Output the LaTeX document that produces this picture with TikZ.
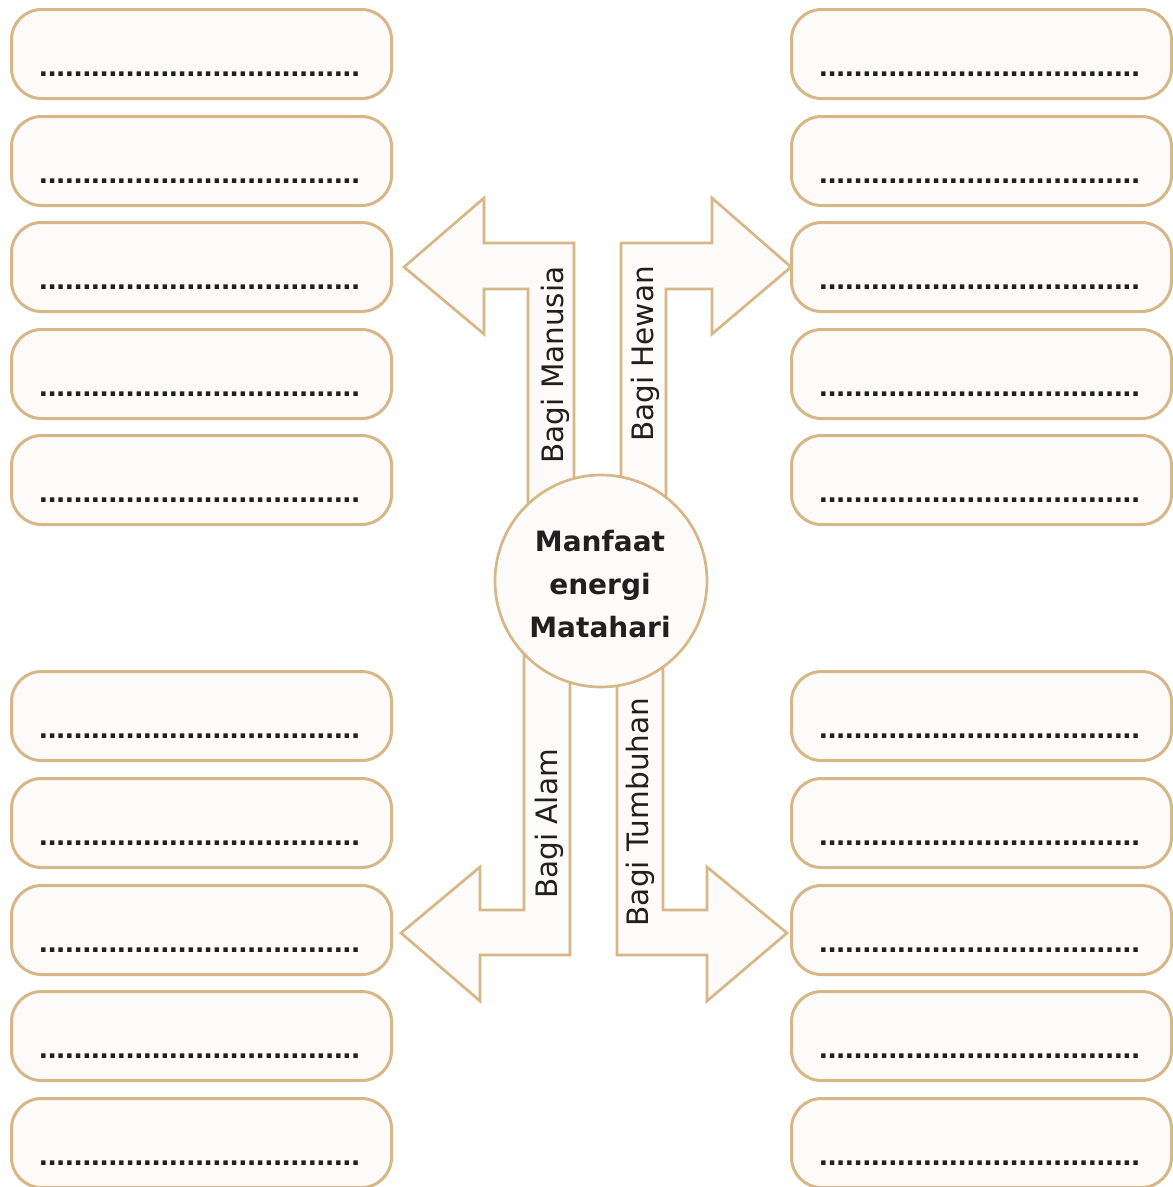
\documentclass[tikz,border=0pt]{standalone}
\usepackage{fontspec}
\setmainfont{DejaVu Sans}
\newfontfamily\dotsfont{Liberation Sans}
\definecolor{tan}{RGB}{215,183,135}
\definecolor{paper}{RGB}{252,251,249}
\definecolor{ink}{RGB}{35,31,32}
\begin{document}
\begin{tikzpicture}[x=1pt,y=-1pt,
  answerbox/.style={draw=tan, fill=paper, line width=3pt, rounded corners=30pt,
    minimum width=380pt, minimum height=89pt, inner sep=0pt},
  dotline/.style={font=\dotsfont\bfseries\fontsize{31.2}{36}\selectfont, text=ink, inner sep=0pt, anchor=base},
  blockarrow/.style={draw=tan, fill=paper, line width=2.7pt, line join=miter},
  hub/.style={circle, draw=tan, fill=paper, line width=2.7pt, minimum size=212pt, inner sep=0pt},
  hubtext/.style={font=\bfseries\fontsize{28}{43}\selectfont, text=ink, align=center, inner sep=0pt},
  armlabel/.style={font=\fontsize{29.5}{34}\selectfont, text=ink, rotate=90, anchor=base, inner sep=0pt}]
\useasboundingbox (0,0) rectangle (1173,1187);
\fill[white] (0,0) rectangle (1173,1187);

% answer boxes
\foreach \n/\cy in {1/54,2/161,3/267,4/374,5/480,6/716,7/823,8/930,9/1036,10/1143}{
  \node[answerbox] (L\n) at (201.5,\cy) {};
  \node[dotline] (Ld\n) at ([xshift=-2pt,yshift=-22.5pt]L\n.center) {.....................................};
  \node[answerbox] (R\n) at (981.5,\cy) {};
  \node[dotline] (Rd\n) at ([xshift=-2pt,yshift=-22.5pt]R\n.center) {.....................................};
}

% block arrows
\draw[blockarrow] (528,520) -- (528,289) -- (484,289) -- (484,334) -- (404,267)
  -- (484,198) -- (484,243) -- (574,243) -- (574,520) -- cycle;
\draw[blockarrow] (621,520) -- (621,243) -- (712,243) -- (712,198) -- (791,267)
  -- (712,334) -- (712,289) -- (666,289) -- (666,520) -- cycle;
\draw[blockarrow] (524,640) -- (524,910) -- (480,910) -- (480,867) -- (401,933)
  -- (480,1001) -- (480,955) -- (570,955) -- (570,640) -- cycle;
\draw[blockarrow] (617,640) -- (617,955) -- (707,955) -- (707,1001) -- (787,933)
  -- (707,867) -- (707,910) -- (663,910) -- (663,640) -- cycle;

% arm labels
\node[armlabel] (manusia) at (563,365) {Bagi Manusia};
\node[armlabel] (hewan) at (653,354) {Bagi Hewan};
\node[armlabel] (alam) at (557,824) {Bagi Alam};
\node[armlabel] (tumbuhan) at (648,812) {Bagi Tumbuhan};

% hub
\node[hub] (hub) at (601,581) {};
\node[hubtext] (hubtxt) at (600,584) {Manfaat\\energi\\Matahari};
\end{tikzpicture}
\end{document}
